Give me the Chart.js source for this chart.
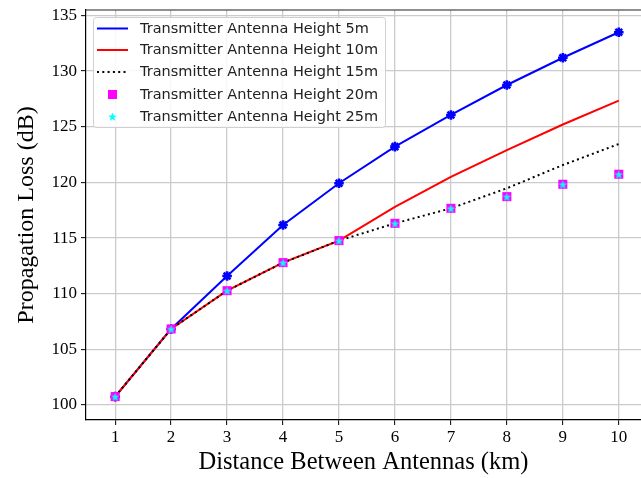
<!DOCTYPE html>
<html>
<head>
<meta charset="utf-8">
<script src="https://cdn.jsdelivr.net/npm/chart.js@4.4.1/dist/chart.umd.min.js"></script>
<style>
  html, body { margin: 0; padding: 0; background: #fff; }
  #wrap { width: 641px; height: 478px; }
</style>
</head>
<body>
<div id="wrap"><canvas id="lossChart" width="641" height="478"></canvas></div>
<script>
// distance between antennas (km)
var distances = [1, 2, 3, 4, 5, 6, 7, 8, 9, 10];
var xTicks = [1, 2, 3, 4, 5, 6, 7, 8, 9, 10];
var yTicks = [100, 105, 110, 115, 120, 125, 130, 135];

// propagation loss (dB) per transmitter antenna height
var loss5m  = [100.75, 106.83, 111.59, 116.17, 119.92, 123.21, 126.06, 128.75, 131.20, 133.49];
var loss10m = [100.75, 106.83, 110.27, 112.79, 114.77, 117.80, 120.50, 122.90, 125.20, 127.34];
var loss15m = [100.75, 106.83, 110.27, 112.79, 114.77, 116.32, 117.67, 119.47, 121.56, 123.45];
var loss20m = [100.75, 106.83, 110.27, 112.79, 114.77, 116.32, 117.67, 118.72, 119.83, 120.73];
var loss25m = [100.75, 106.83, 110.27, 112.79, 114.77, 116.32, 117.67, 118.72, 119.83, 120.73];

var seriesLabels = [
  'Transmitter Antenna Height 5m',
  'Transmitter Antenna Height 10m',
  'Transmitter Antenna Height 15m',
  'Transmitter Antenna Height 20m',
  'Transmitter Antenna Height 25m'
];

function pts(ys) {
  return distances.map(function (x, i) { return { x: x, y: ys[i] }; });
}

// filled five-point star used as a marker
function makeStar(size, color) {
  var c = document.createElement('canvas');
  c.width = size; c.height = size;
  var g = c.getContext('2d');
  var cx = size / 2, cy = size / 2 + size * 0.06, R = size / 2, r = R * 0.42;
  g.beginPath();
  for (var i = 0; i < 10; i++) {
    var a = -Math.PI / 2 + i * Math.PI / 5;
    var rr = i % 2 === 0 ? R : r;
    g.lineTo(cx + rr * Math.cos(a), cy + rr * Math.sin(a));
  }
  g.closePath();
  g.fillStyle = color;
  g.fill();
  return c;
}
var cyanStar = makeStar(9, '#00ffff');

// matplotlib-style legend box inside the plot area
var insideLegend = {
  id: 'insideLegend',
  afterDraw: function (chart) {
    var ctx = chart.ctx;
    var bx = 93.5, by = 17.5, bw = 292, bh = 110;
    ctx.save();
    ctx.beginPath();
    ctx.roundRect(bx, by, bw, bh, 3);
    ctx.fillStyle = 'rgba(255,255,255,0.85)';
    ctx.fill();
    ctx.strokeStyle = '#d0d0d0';
    ctx.lineWidth = 1;
    ctx.stroke();
    ctx.font = '14.5px "DejaVu Sans"';
    ctx.textBaseline = 'middle';
    var rowY = [28.5, 50, 72, 94.5, 116.5];
    chart.data.datasets.forEach(function (ds, i) {
      var y = rowY[i];
      if (ds.showLine !== false) {
        ctx.beginPath();
        ctx.setLineDash(ds.borderDash || []);
        ctx.strokeStyle = ds.borderColor;
        ctx.lineWidth = ds.borderWidth;
        ctx.moveTo(97, y);
        ctx.lineTo(128, y);
        ctx.stroke();
        ctx.setLineDash([]);
      } else if (ds.pointStyle === 'rect') {
        ctx.fillStyle = ds.pointBackgroundColor;
        ctx.fillRect(108, y - 4.5, 9, 9);
      } else {
        ctx.drawImage(ds.pointStyle, 108, y - 4.5);
      }
      ctx.fillStyle = '#222';
      ctx.fillText(ds.label, 140, y + 0.5);
    });
    ctx.restore();
  }
};

// top spine of the plot frame
var topSpine = {
  id: 'topSpine',
  afterDraw: function (chart) {
    var a = chart.chartArea, ctx = chart.ctx;
    ctx.save();
    ctx.strokeStyle = '#222';
    ctx.lineWidth = 1.2;
    ctx.beginPath();
    ctx.moveTo(a.left, a.top);
    ctx.lineTo(a.right, a.top);
    ctx.stroke();
    ctx.restore();
  }
};

var ctx = document.getElementById('lossChart').getContext('2d');
var lossChart = new Chart(ctx, {
  type: 'line',
  data: {
    datasets: [{
      label: seriesLabels[0],
      data: pts(loss5m),
      borderColor: '#0000ff',
      backgroundColor: '#0000ff',
      borderWidth: 2,
      pointStyle: 'star',
      pointRadius: 4.8,
      pointBorderWidth: 2.6,
      pointBorderColor: '#0000ff',
      tension: 0,
      order: 5
    }, {
      label: seriesLabels[1],
      data: pts(loss10m),
      borderColor: '#ff0000',
      borderWidth: 2,
      pointRadius: 0,
      tension: 0,
      order: 4
    }, {
      label: seriesLabels[2],
      data: pts(loss15m),
      borderColor: '#000000',
      borderWidth: 2,
      borderDash: [2, 3.3],
      pointRadius: 0,
      tension: 0,
      order: 3
    }, {
      label: seriesLabels[3],
      data: pts(loss20m),
      showLine: false,
      pointStyle: 'rect',
      pointRadius: 6.4,
      pointBorderWidth: 0,
      pointBackgroundColor: '#ff00ff',
      pointBorderColor: '#ff00ff',
      order: 2
    }, {
      label: seriesLabels[4],
      data: pts(loss25m),
      showLine: false,
      pointStyle: cyanStar,
      pointRadius: 4.5,
      order: 1
    }]
  },
  options: {
    responsive: false,
    animation: false,
    // plot runs past the right edge of the canvas, so no right spine shows
    layout: { autoPadding: false, padding: { top: 10, right: -3, left: 0, bottom: 0 } },
    plugins: {
      legend: { display: false },
      tooltip: { enabled: false }
    },
    scales: {
      x: {
        type: 'linear',
        min: 0.479,
        max: 10.397,
        afterFit: function (s) { s.height = 58; s.paddingLeft = 0; s.paddingRight = 0; },
        afterBuildTicks: function (s) { s.ticks = xTicks.map(function (v) { return { value: v }; }); },
        grid: { color: '#cbcbcb', lineWidth: 1.3, tickLength: 5, tickColor: '#000', tickWidth: 1 },
        border: { color: '#000', width: 1.2 },
        ticks: {
          color: '#000',
          padding: 2,
          font: { family: '"Liberation Serif"', size: 17 }
        },
        title: {
          display: true,
          text: 'Distance Between Antennas (km)',
          color: '#000',
          font: { family: '"Liberation Serif"', size: 24.5 },
          padding: { top: 0, bottom: 1 }
        }
      },
      y: {
        type: 'linear',
        min: 98.65,
        max: 135.49,
        afterFit: function (s) { s.width = 86; s.paddingTop = 0; s.paddingBottom = 0; },
        afterBuildTicks: function (s) { s.ticks = yTicks.map(function (v) { return { value: v }; }); },
        grid: { color: '#cbcbcb', lineWidth: 1.3, tickLength: 5, tickColor: '#000', tickWidth: 1 },
        border: { color: '#000', width: 1.2 },
        ticks: {
          color: '#000',
          padding: 4,
          font: { family: '"Liberation Serif"', size: 17 }
        },
        title: {
          display: true,
          text: 'Propagation Loss (dB)',
          color: '#000',
          font: { family: '"Liberation Serif"', size: 24 },
          padding: { top: 12, bottom: 0 }
        }
      }
    }
  },
  plugins: [topSpine, insideLegend]
});
</script>
</body>
</html>
